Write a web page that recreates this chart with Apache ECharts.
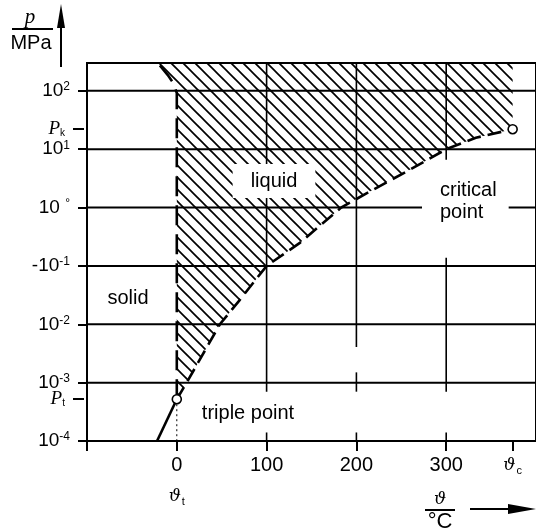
<!DOCTYPE html>
<html>
<head>
<meta charset="utf-8">
<script src="https://cdn.jsdelivr.net/npm/echarts@6/dist/echarts.min.js"></script>
<style>
  html, body { margin: 0; padding: 0; background: #fff; }
  #chart { width: 536px; height: 531px; }
</style>
</head>
<body>
<div id="chart"></div>
<script>
// Phase diagram of water: temperature in °C against pressure in MPa (log scale)

const tempMin = -100;
const tempMax = 400;
const pMin = 1e-4;
const pMax = 300;

const tempTicks = [0, 100, 200, 300];
const criticalT = 374;     // ϑc
const criticalP = 22;      // Pk in MPa
const tripleT = 0;         // ϑt
const tripleP = 5.2e-4;    // Pt in MPa

// liquid / vapour boundary, triple point up to the critical point
const vaporT = [0, 11, 48, 70, 100, 137, 183, 218, 259, 300, 333, 374];
const vaporP = [5.2e-4, 1.0e-3, 0.01, 0.026, 0.1, 0.248, 1.0, 2.0, 4.4, 10, 15.7, 22];

// solid / liquid boundary, upward from the triple point
const meltT = [0, 0, -4, -10, -21];
const meltP = [5.2e-4, 92, 137, 186, 300];

// solid / vapour boundary, below the triple point
const sublimT = [-22, 0];
const sublimP = [1e-4, 5.2e-4];

// pressure decades and their labels (base + raised part)
const pDecades = [1e-4, 1e-3, 1e-2, 1e-1, 1, 10, 100];
const pDecadeBase = ['10', '10', '10', '-10', '10 ', '10', '10'];
const pDecadeExp = ['-4', '-3', '-2', '-1', '°', '1', '2'];

// vertical grid pieces: [temperature, upper pressure, lower pressure]
const vGrid = [
  [100, pMax, 7e-4], [100, 1.4e-4, 1e-4],
  [200, pMax, 4.1e-3], [200, 1.5e-3, 7e-4], [200, 1.4e-4, 1e-4],
  [300, pMax, 6.6], [300, 0.138, 7e-4], [300, 1.4e-4, 1e-4]
];
// faint guide from the triple point down to the temperature axis
const tripleGuide = [[tripleT, tripleP, tripleT, pMin]];

const SANS = '"Liberation Sans", Arial, sans-serif';
const SERIF = '"Liberation Serif", "DejaVu Serif", serif';
const GREEK = '"DejaVu Serif", serif';

function hatchPattern(step, width) {
  const c = document.createElement('canvas');
  c.width = step; c.height = step;
  const g = c.getContext('2d');
  g.strokeStyle = '#000';
  g.lineWidth = width;
  for (const k of [-step, 0, step]) {
    g.beginPath();
    g.moveTo(k - 1, -1);
    g.lineTo(k + step + 1, step + 1);
    g.stroke();
  }
  return c;
}
const hatch = hatchPattern(12, 1.7);

function segmentRenderer(width, dash) {
  return function (params, api) {
    const a = api.coord([api.value(0), api.value(1)]);
    const b = api.coord([api.value(2), api.value(3)]);
    return {
      type: 'line',
      shape: { x1: a[0], y1: a[1], x2: b[0], y2: b[1] },
      style: { stroke: '#000', lineWidth: width, lineDash: dash || null }
    };
  };
}

// boundary curve drawn through the axes' own coordinate mapping
function curveRenderer(xs, ys, width, dash) {
  return function (params, api) {
    const pts = xs.map((x, i) => api.coord([x, ys[i]]));
    return {
      type: 'polyline',
      shape: { points: pts },
      style: { stroke: '#000', fill: 'none', lineWidth: width, lineDash: dash || null, lineCap: 'butt' }
    };
  };
}

const sameP = (a, b) => Math.abs(Math.log10(a) - Math.log10(b)) < 1e-6;

const chart = echarts.init(document.getElementById('chart'), null, { renderer: 'canvas' });

chart.setOption({
  animation: false,
  backgroundColor: '#fff',
  grid: {
    left: 87, top: 63, width: 450, bottom: 90,
    show: true, borderColor: '#000', borderWidth: 2, backgroundColor: 'transparent'
  },
  xAxis: {
    type: 'value',
    min: tempMin, max: tempMax, interval: 100,
    axisLine: { onZero: false, lineStyle: { color: '#000', width: 2 } },
    axisTick: {
      customValues: [tempMin].concat(tempTicks, [criticalT]),
      length: 10, lineStyle: { color: '#000', width: 2 }
    },
    axisLabel: {
      customValues: tempTicks.concat([criticalT]),
      margin: 14,
      color: '#000',
      formatter: v => {
        if (v === criticalT) return '{th|ϑ}{sub|c}';
        if (v === tripleT) return '{n|0}\n{th2|ϑ}{sub2|t}';
        return '{n|' + v + '}';
      },
      rich: {
        n: { fontSize: 20, fontFamily: SANS, color: '#000', lineHeight: 20 },
        th: { fontSize: 17, fontFamily: GREEK, fontStyle: 'italic', color: '#000', lineHeight: 20 },
        sub: { fontSize: 11, fontFamily: SANS, color: '#000', padding: [10, 0, 0, 1] },
        th2: { fontSize: 17, fontFamily: GREEK, fontStyle: 'italic', color: '#000', lineHeight: 44 },
        sub2: { fontSize: 11, fontFamily: SANS, color: '#000', padding: [10, 0, 0, 1], lineHeight: 44 }
      }
    },
    splitLine: { show: false }
  },
  yAxis: [
    {
      type: 'log', logBase: 10,
      min: pMin, max: pMax,
      axisLine: { show: true, onZero: false, lineStyle: { color: '#000', width: 2 } },
      axisTick: { show: true, customValues: pDecades, length: 9, lineStyle: { color: '#000', width: 2 } },
      axisLabel: {
        customValues: pDecades,
        margin: 17,
        color: '#000',
        formatter: v => {
          const i = pDecades.findIndex(d => sameP(d, v));
          return i < 0 ? '' : '{b|' + pDecadeBase[i] + '}{s|' + pDecadeExp[i] + '}';
        },
        rich: {
          b: { fontSize: 19, fontFamily: SANS, color: '#000', lineHeight: 20 },
          s: { fontSize: 12, fontFamily: SANS, color: '#000', verticalAlign: 'top', lineHeight: 20 }
        }
      },
      splitLine: { show: false }
    },
    {
      type: 'log', logBase: 10,
      min: pMin, max: pMax,
      position: 'left', offset: 3,
      axisLine: { show: false, onZero: false },
      axisTick: { show: true, customValues: [criticalP, tripleP], length: 11, lineStyle: { color: '#000', width: 2 } },
      axisLabel: {
        customValues: [criticalP, tripleP],
        margin: 19,
        formatter: v => sameP(v, criticalP) ? '{P|P}{k|k}' : '{P|P}{k|t}',
        rich: {
          P: { fontSize: 19, fontFamily: SERIF, fontStyle: 'italic', color: '#000', lineHeight: 20 },
          k: { fontSize: 10, fontFamily: SANS, color: '#000', padding: [9, 0, 0, 0] }
        }
      },
      splitLine: { show: false }
    }
  ],
  series: [
    {
      // hatched liquid region
      type: 'custom', silent: true, z: 1, clip: true,
      data: [[0, 1]],
      renderItem: (params, api) => {
        const pts = [];
        meltT.forEach((t, i) => pts.push(api.coord([t, meltP[i]])));
        pts.push(api.coord([criticalT, pMax]));
        for (let i = vaporT.length - 1; i >= 0; i--) pts.push(api.coord([vaporT[i], vaporP[i]]));
        return {
          type: 'polygon',
          shape: { points: pts },
          style: { fill: { image: hatch, repeat: 'repeat' }, stroke: 'none', lineWidth: 0 }
        };
      }
    },
    {
      // horizontal decade lines
      type: 'custom', silent: true, z: 2, clip: true,
      data: pDecades.map(p => [tempMin, p, tempMax, p]),
      encode: { x: [0, 2], y: [1, 3] },
      renderItem: segmentRenderer(2)
    },
    {
      // vertical grid lines
      type: 'custom', silent: true, z: 2, clip: true,
      data: vGrid.map(s => [s[0], s[1], s[0], s[2]]),
      encode: { x: [0, 2], y: [1, 3] },
      renderItem: segmentRenderer(1.6)
    },
    {
      type: 'custom', silent: true, z: 2, clip: true,
      data: tripleGuide,
      encode: { x: [0, 2], y: [1, 3] },
      renderItem: segmentRenderer(1, [2, 3])
    },
    {
      // vaporisation curve
      type: 'custom', silent: true, z: 4, clip: true,
      data: [[0, 1]],
      renderItem: curveRenderer(vaporT, vaporP, 2.6, [14, 7])
    },
    {
      // melting curve
      type: 'custom', silent: true, z: 4, clip: true,
      data: [[0, 1]],
      renderItem: curveRenderer(meltT, meltP, 2.6, [20, 9])
    },
    {
      // sublimation curve
      type: 'custom', silent: true, z: 4, clip: true,
      data: [[0, 1]],
      renderItem: curveRenderer(sublimT, sublimP, 2.6)
    },
    {
      type: 'scatter', z: 6, silent: true,
      data: [[tripleT, tripleP], [criticalT, criticalP]],
      symbol: 'circle', symbolSize: 9,
      itemStyle: { color: '#fff', opacity: 1, borderColor: '#000', borderWidth: 1.6 }
    }
  ],
  graphic: [
    // pressure axis title and arrow
    { type: 'text', x: 30, y: 17, style: { text: 'p', font: 'italic 21px ' + SERIF, fill: '#000', align: 'center', verticalAlign: 'middle' } },
    { type: 'line', shape: { x1: 12, y1: 29, x2: 53, y2: 29 }, style: { stroke: '#000', lineWidth: 2 } },
    { type: 'text', x: 31, y: 43, style: { text: 'MPa', font: '20px ' + SANS, fill: '#000', align: 'center', verticalAlign: 'middle' } },
    { type: 'line', shape: { x1: 61, y1: 67, x2: 61, y2: 22 }, style: { stroke: '#000', lineWidth: 2 } },
    { type: 'polygon', shape: { points: [[57, 28], [61, 4], [65, 28]] }, style: { fill: '#000' } },
    // temperature axis title and arrow
    { type: 'text', x: 440, y: 500, style: { text: 'ϑ', font: 'italic 17px ' + GREEK, fill: '#000', align: 'center', verticalAlign: 'middle' } },
    { type: 'line', shape: { x1: 425, y1: 510, x2: 455, y2: 510 }, style: { stroke: '#000', lineWidth: 2 } },
    { type: 'text', x: 440, y: 522, style: { text: '°C', font: '22px ' + SANS, fill: '#000', align: 'center', verticalAlign: 'middle' } },
    { type: 'line', shape: { x1: 470, y1: 509, x2: 512, y2: 509 }, style: { stroke: '#000', lineWidth: 2 } },
    { type: 'polygon', shape: { points: [[508, 504], [536, 509], [508, 514]] }, style: { fill: '#000' } },
    // region labels
    { type: 'text', x: 274, y: 181, z: 10, style: { text: 'liquid', font: '20px ' + SANS, fill: '#000', align: 'center', verticalAlign: 'middle', backgroundColor: '#fff', padding: [7, 18, 7, 18] } },
    { type: 'text', x: 128, y: 298, style: { text: 'solid', font: '20px ' + SANS, fill: '#000', align: 'center', verticalAlign: 'middle' } },
    { type: 'text', x: 248, y: 413, style: { text: 'triple point', font: '20px ' + SANS, fill: '#000', align: 'center', verticalAlign: 'middle' } },
    { type: 'text', x: 422, y: 175, z: 10, style: { text: 'critical\npoint', font: '20px ' + SANS, lineHeight: 22, fill: '#000', align: 'left', verticalAlign: 'top', backgroundColor: '#fff', padding: [4, 12, 4, 18] } }
  ]
});
</script>
</body>
</html>
